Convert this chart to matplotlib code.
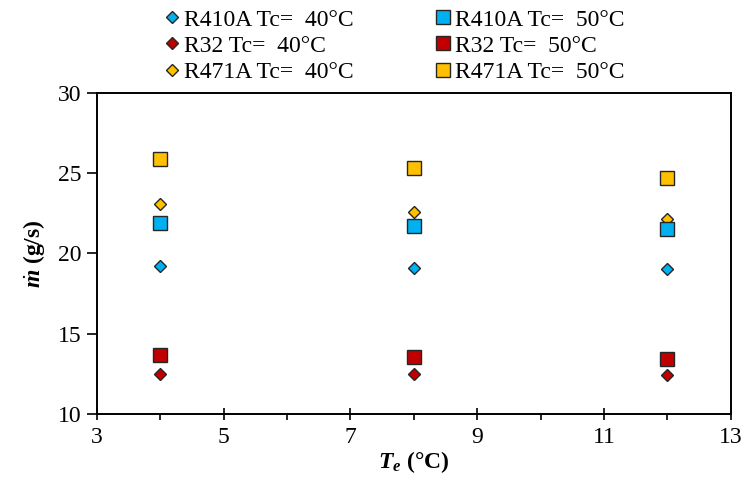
import matplotlib
matplotlib.use("Agg")
import matplotlib.pyplot as plt
from matplotlib.ticker import MultipleLocator, FixedLocator

plt.rcParams['font.family'] = ['Liberation Serif', 'DejaVu Serif']
plt.rcParams['mathtext.fontset'] = 'custom'
plt.rcParams['mathtext.rm'] = 'Liberation Serif'
plt.rcParams['mathtext.it'] = 'Liberation Serif:italic'
plt.rcParams['mathtext.bf'] = 'Liberation Serif:bold'
plt.rcParams['mathtext.bfit'] = 'Liberation Serif:italic:bold'

Te = [4, 8, 12]
r410a_40 = [19.2, 19.1, 19.0]
r410a_50 = [21.9, 21.7, 21.5]
r32_40 = [12.5, 12.5, 12.45]
r32_50 = [13.7, 13.55, 13.45]
r471a_40 = [23.1, 22.6, 22.15]
r471a_50 = [25.9, 25.3, 24.7]

labels = ["R410A Tc=  40°C", "R32 Tc=  40°C", "R471A Tc=  40°C",
          "R410A Tc=  50°C", "R32 Tc=  50°C", "R471A Tc=  50°C"]
xticks_major = [3, 5, 7, 9, 11, 13]
blue, red, yellow = "#00B0F0", "#C00000", "#FFC000"
edge = "#262626"

fig = plt.figure(figsize=(7.45, 4.91), dpi=100)
ax = fig.add_axes([0.130, 0.157, 0.851, 0.654])

series = [
    (r410a_40, 'D', blue, 6.2),
    (r32_40, 'D', red, 6.2),
    (r471a_40, 'D', yellow, 6.2),
    (r410a_50, 's', blue, 10),
    (r32_50, 's', red, 10),
    (r471a_50, 's', yellow, 10),
]
handles = []
for (vals, mk, col, ms), lab in zip(series, labels):
    h, = ax.plot(Te, vals, linestyle='none', marker=mk, markersize=ms,
                 markerfacecolor=col, markeredgecolor=edge, markeredgewidth=1.0,
                 label=lab, zorder=3)
    handles.append(h)

ax.set_xlim(3, 13)
ax.set_ylim(10, 30)
ax.xaxis.set_major_locator(FixedLocator(xticks_major))
ax.xaxis.set_minor_locator(MultipleLocator(1))
ax.yaxis.set_major_locator(MultipleLocator(5))
ax.tick_params(axis='x', which='major', direction='inout', length=9, width=1.2,
               labelsize=17, pad=5)
ax.tick_params(axis='x', which='minor', direction='out', length=4, width=1.2)
ax.tick_params(axis='y', which='major', direction='out', length=7, width=1.2,
               labelsize=17, pad=4)
for s in ax.spines.values():
    s.set_linewidth(1.4)

ax.set_xlabel(r"$\mathbfit{T}_{\mathbfit{e}}$ (°C)", fontsize=17, fontweight='bold', labelpad=1)
ax.set_ylabel(r"$\dot{\mathbfit{m}}$ (g/s)", fontsize=17, fontweight='bold', labelpad=8)

fig.legend(handles=handles, labels=labels, ncol=2, loc='upper left',
           bbox_to_anchor=(0.188, 1.025), frameon=False, fontsize=17,
           handletextpad=0.05, columnspacing=3.35, labelspacing=0.2,
           handlelength=0.9, markerscale=0.95)

fig.savefig("out.png", dpi=100)
